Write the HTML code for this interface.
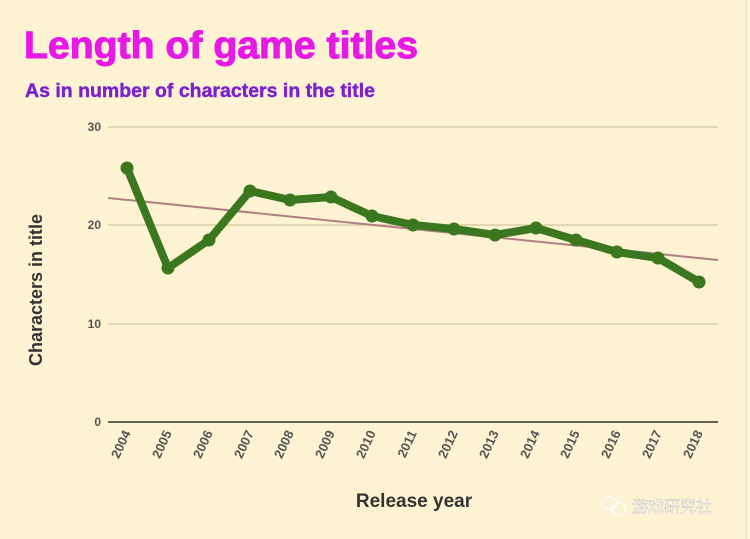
<!DOCTYPE html>
<html><head><meta charset="utf-8"><style>
body{margin:0;background:#fdf2d1;}
svg{display:block;font-family:"Liberation Sans","Noto Sans CJK SC",sans-serif;}
</style></head><body>
<svg width="750" height="539" viewBox="0 0 750 539">
<rect width="750" height="539" fill="#fdf2d1"/>
<line x1="746" y1="0" x2="746" y2="539" stroke="#ddd" stroke-width="1"/>
<text x="24" y="58" font-size="38" font-weight="bold" fill="#e619e6" stroke="#e619e6" stroke-width="1" textLength="394" lengthAdjust="spacingAndGlyphs">Length of game titles</text>
<text x="25" y="97" font-size="19" font-weight="bold" fill="#7b1fd0" stroke="#7b1fd0" stroke-width="0.4" textLength="350" lengthAdjust="spacingAndGlyphs">As in number of characters in the title</text>
<g stroke="#d3c79e" stroke-width="1.2">
<line x1="108" y1="127" x2="718" y2="127"/>
<line x1="108" y1="225" x2="718" y2="225"/>
<line x1="108" y1="324" x2="718" y2="324"/>
</g>
<line x1="108" y1="422" x2="718" y2="422" stroke="#333" stroke-width="1.5"/>
<g font-size="12" font-weight="bold" fill="#555" text-anchor="end">
<text x="101" y="131">30</text><text x="101" y="229">20</text><text x="101" y="328">10</text><text x="101" y="426">0</text>
</g>
<g font-size="13" font-weight="bold" fill="#555" text-anchor="end">
<text transform="translate(131,433) rotate(-65)">2004</text>
<text transform="translate(172,433) rotate(-65)">2005</text>
<text transform="translate(213,433) rotate(-65)">2006</text>
<text transform="translate(254,433) rotate(-65)">2007</text>
<text transform="translate(294,433) rotate(-65)">2008</text>
<text transform="translate(335,433) rotate(-65)">2009</text>
<text transform="translate(376,433) rotate(-65)">2010</text>
<text transform="translate(417,433) rotate(-65)">2011</text>
<text transform="translate(458,433) rotate(-65)">2012</text>
<text transform="translate(499,433) rotate(-65)">2013</text>
<text transform="translate(540,433) rotate(-65)">2014</text>
<text transform="translate(580,433) rotate(-65)">2015</text>
<text transform="translate(621,433) rotate(-65)">2016</text>
<text transform="translate(662,433) rotate(-65)">2017</text>
<text transform="translate(703,433) rotate(-65)">2018</text>
</g>
<text x="414" y="507" font-size="19" font-weight="bold" fill="#333" text-anchor="middle">Release year</text>
<text transform="translate(42,290) rotate(-90)" font-size="18" font-weight="bold" fill="#333" text-anchor="middle">Characters in title</text>
<line x1="108" y1="198" x2="718" y2="260" stroke="#b07f86" stroke-width="2"/>
<polyline fill="none" stroke="#3a771f" stroke-width="8" stroke-linejoin="round" points="127,168 168,268 209,240 250,191 290,200 331,197 372,216 413,225 454,229 495,235 536,228 576,240 617,252 658,258 699,282"/>
<g fill="#3a771f">
<circle cx="127" cy="168" r="6.5"/><circle cx="168" cy="268" r="6.5"/><circle cx="209" cy="240" r="6.5"/><circle cx="250" cy="191" r="6.5"/><circle cx="290" cy="200" r="6.5"/><circle cx="331" cy="197" r="6.5"/><circle cx="372" cy="216" r="6.5"/><circle cx="413" cy="225" r="6.5"/><circle cx="454" cy="229" r="6.5"/><circle cx="495" cy="235" r="6.5"/><circle cx="536" cy="228" r="6.5"/><circle cx="576" cy="240" r="6.5"/><circle cx="617" cy="252" r="6.5"/><circle cx="658" cy="258" r="6.5"/><circle cx="699" cy="282" r="6.5"/>
</g>
<g fill="none" stroke="#fff" stroke-width="1.5" opacity="0.9">
<ellipse cx="609" cy="503" rx="8" ry="6"/><ellipse cx="619" cy="509" rx="7" ry="6"/>
</g>
<text x="632" y="512" font-size="16" fill="#fff" stroke="#bbb" stroke-width="0.4">游戏研究社</text>
</svg>
</body></html>
